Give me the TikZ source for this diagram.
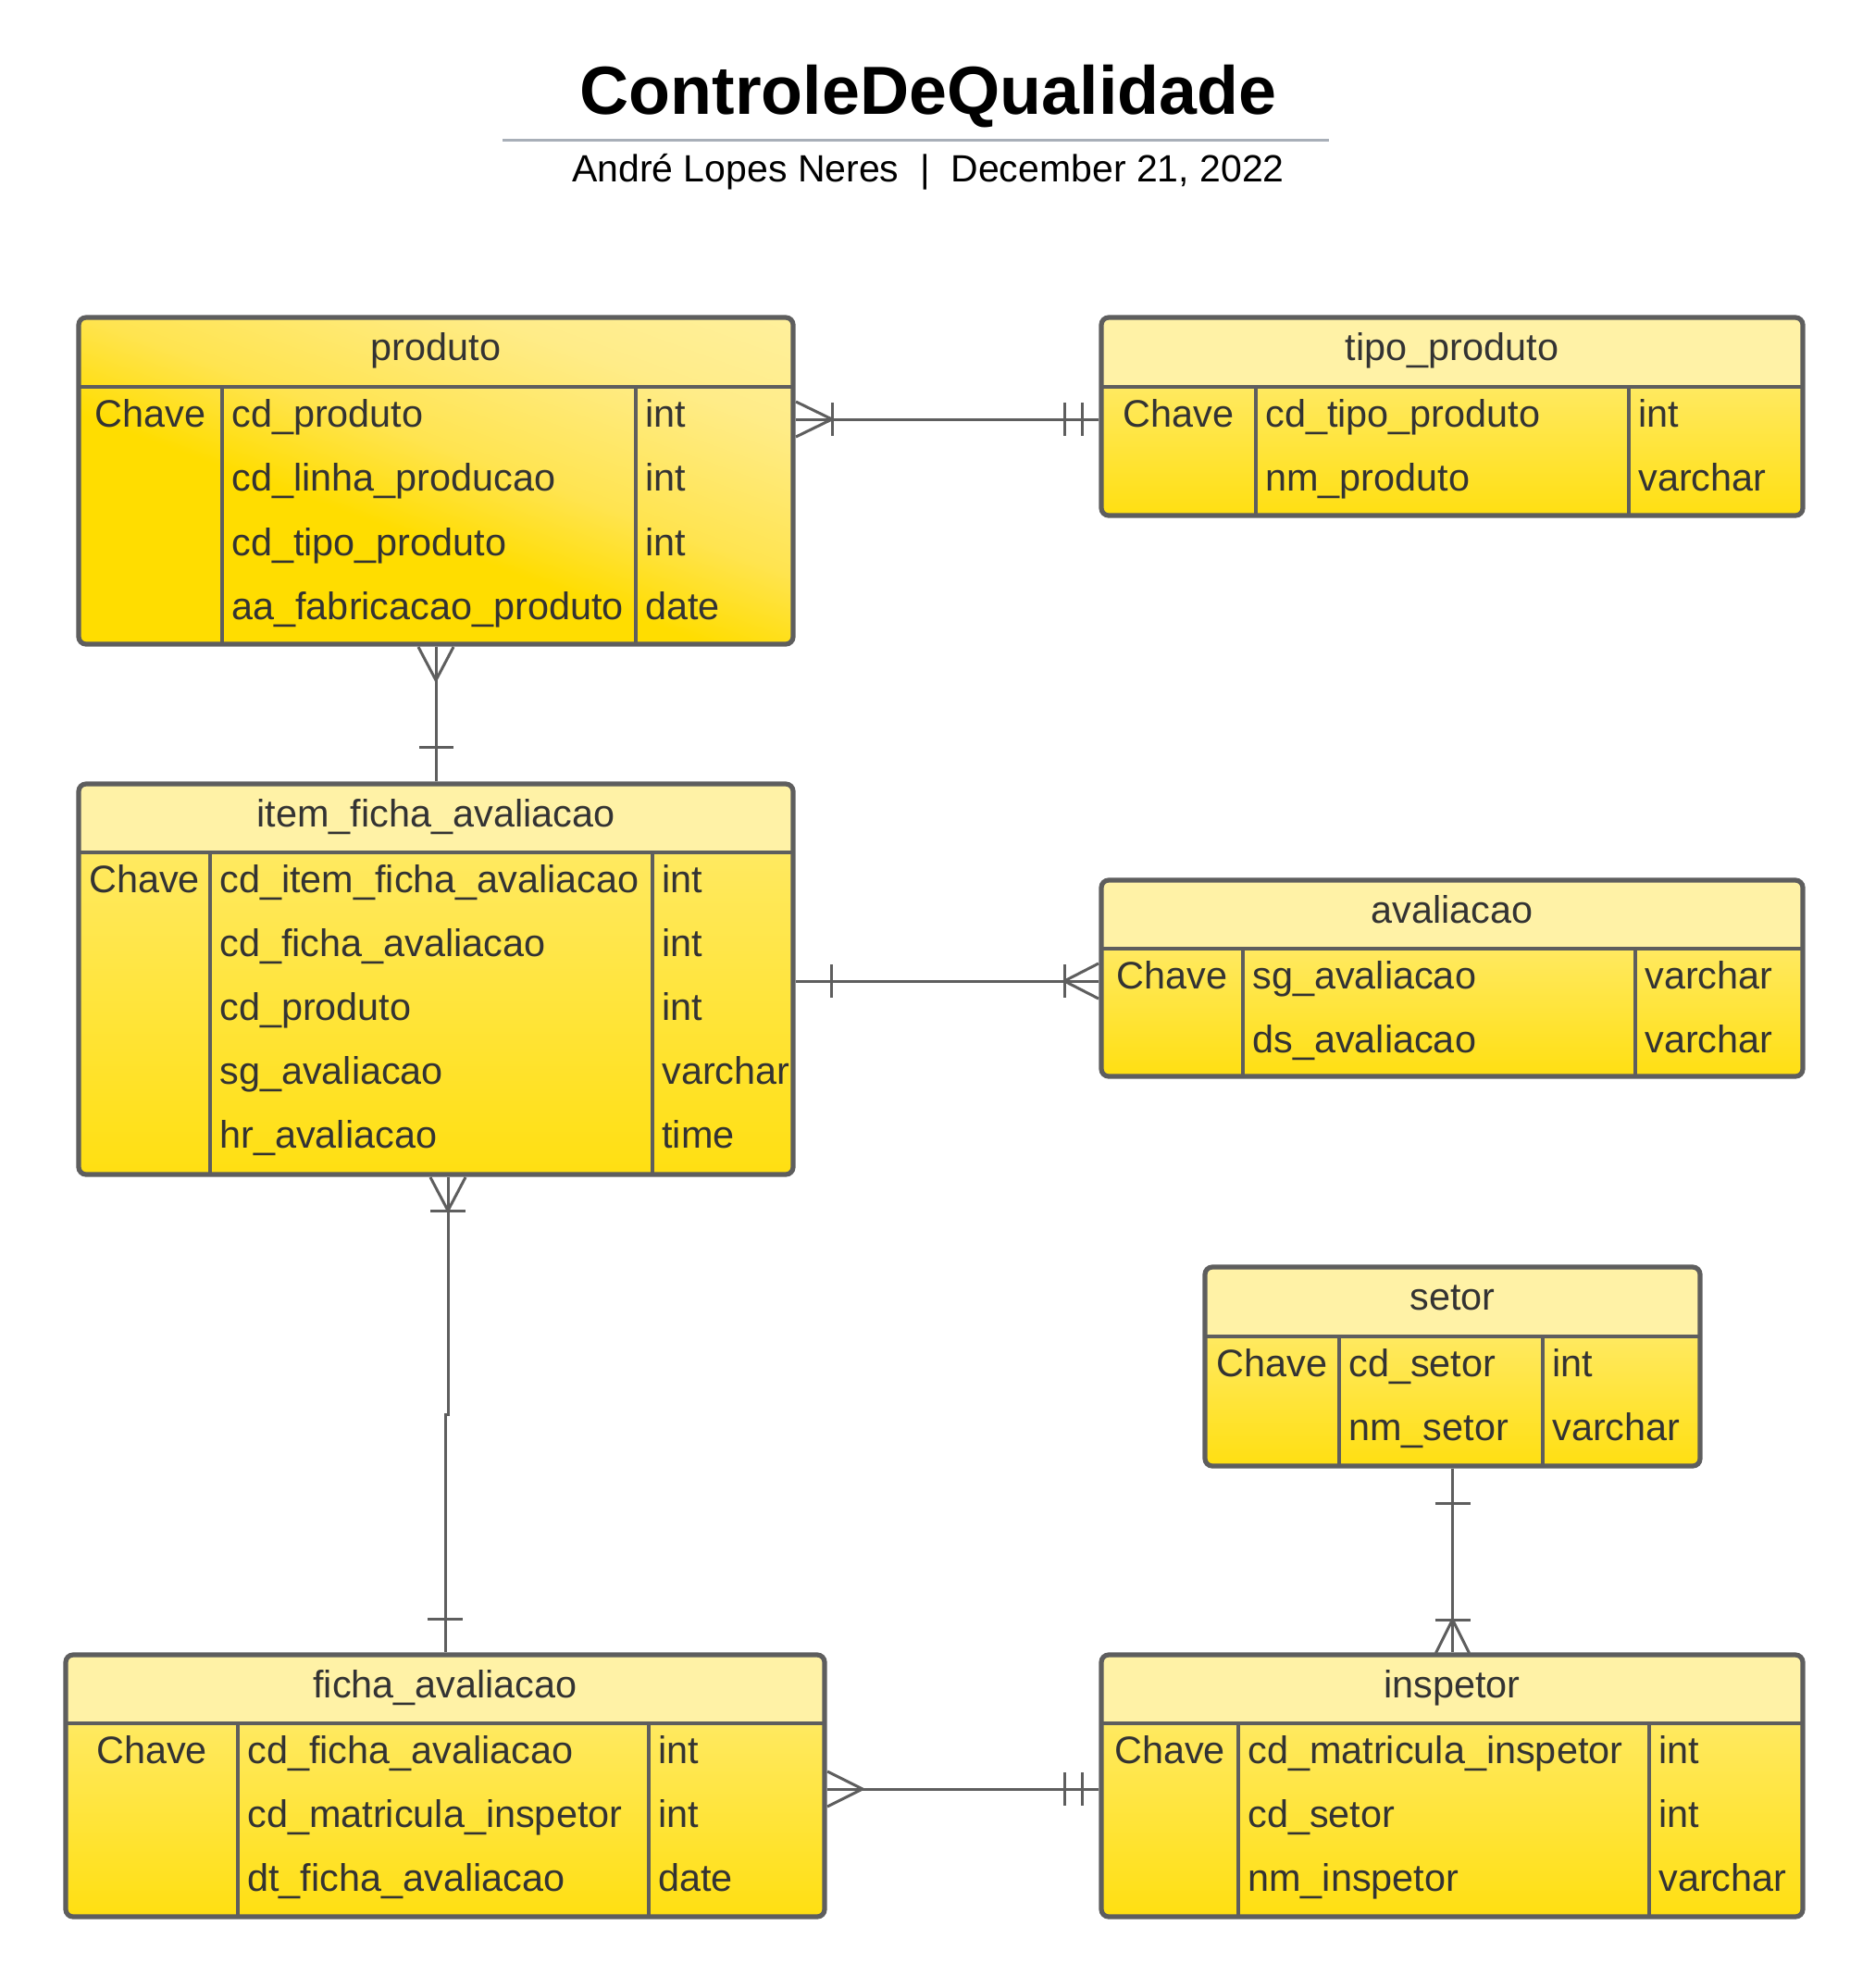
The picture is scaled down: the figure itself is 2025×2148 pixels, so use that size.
\documentclass[tikz,border=0pt]{standalone}
\usepackage{fontspec}
\setmainfont{Liberation Sans}
\usetikzlibrary{fit}
\definecolor{ergold}{HTML}{FFDD00}
\definecolor{erbodytop}{HTML}{FFEE88}
\definecolor{erhead}{HTML}{FFF2A6}
\definecolor{erlight}{HTML}{FFF3AA}
\definecolor{erdmid}{HTML}{FFE450}
\definecolor{erdsoft}{HTML}{FFEC88}
\definecolor{erline}{HTML}{5E5E5E}
\definecolor{ertext}{HTML}{333333}
\definecolor{titlerule}{HTML}{A8AFB8}
\pgfdeclareverticalshading{erbody}{100bp}{color(0bp)=(ergold); color(14bp)=(ergold); color(100bp)=(erbodytop)}
\pgfdeclareverticalshading{erdiag}{100bp}{color(0bp)=(ergold); color(43bp)=(ergold); color(54bp)=(erdmid); color(70bp)=(erdsoft); color(88bp)=(erhead); color(100bp)=(erlight)}
\newcommand{\erfont}{\fontsize{20.7}{24}\selectfont}
\tikzset{
  tablebox/.style={draw=erline, line width=2.6pt, rounded corners=4pt, inner sep=0pt},
  divider/.style={draw=erline, line width=2.2pt},
  conn/.style={draw=erline, line width=1.5pt},
  ftext/.style={anchor=base west, inner sep=0pt, font=\erfont, text=ertext},
  ktext/.style={anchor=base, inner sep=0pt, font=\erfont, text=ertext},
  htext/.style={anchor=base, inner sep=0pt, font=\erfont, text=ertext},
}
% plain vertical fill: #1 x1 #2 y1 #3 x2 #4 y2 #5 yh
\newcommand{\erfill}[5]{%
  \begin{scope}
    \clip[rounded corners=4pt] (#1,#2) rectangle (#3,#4);
    \shade[shading=erbody] (#1,#5) rectangle (#3,#4);
    \fill[erhead] (#1,#2) rectangle (#3,#5);
  \end{scope}}
\newcommand{\erdiagfill}[5]{%
  \begin{scope}
    \clip[rounded corners=4pt] (#1,#2) rectangle (#3,#4);
    \shade[shading=erdiag, shading angle=-20] (#1,#2) rectangle (#3,#4);
  \end{scope}}
% table frame: #1 name #2 x1 #3 y1 #4 x2 #5 y2 #6 yh #7 c1 #8 c2 #9 title
\newcommand{\ertable}[9]{%
  \draw[divider] (#2,#6) -- (#4,#6);
  \draw[divider] (#7,#6) -- (#7,#5);
  \draw[divider] (#8,#6) -- (#8,#5);
  \coordinate (#1-nw) at (#2,#3);
  \coordinate (#1-se) at (#4,#5);
  \node[tablebox, fit=(#1-nw)(#1-se)] (#1) {};
  \node[htext] (#1-title) at ({(#2+#4)/2},{(#3+#6)/2+9}) {#9};
  \node[ktext] (#1-key) at ({(#2+#7)/2},{#6+43}) {Chave};}
% row: #1 prefix #2 c1 #3 c2 #4 y(mid) #5 field #6 type
\newcommand{\errow}[6]{%
  \node[ftext] (#1-f) at ({#2+10},{#4+12}) {#5};
  \node[ftext] (#1-t) at ({#3+10},{#4+12}) {#6};}

\begin{document}
\begin{tikzpicture}[x=0.5pt,y=-0.5pt]
\fill[white] (0,0) rectangle (2025,2148);
\useasboundingbox (0,0) rectangle (2025,2148);

% title
\node[anchor=base, inner sep=0pt, font=\bfseries\fontsize{36.8}{44}\selectfont] (title) at (1003,123) {ControleDeQualidade};
\draw[titlerule, line width=1.5pt] (543,151) -- (1436,151);
\node[anchor=base, inner sep=0pt, font=\fontsize{20.5}{24}\selectfont] (subtitle) at (1003,196.5) {André Lopes Neres\ \ |\ \ December 21, 2022};

% produto
\erdiagfill{85}{343}{857}{696}{418}
\ertable{produto}{85}{343}{857}{696}{418}{240}{687}{produto}
\errow{p1}{240}{687}{449}{cd\_produto}{int}
\errow{p2}{240}{687}{518}{cd\_linha\_producao}{int}
\errow{p3}{240}{687}{588}{cd\_tipo\_produto}{int}
\errow{p4}{240}{687}{657}{aa\_fabricacao\_produto}{date}

% tipo_produto
\erfill{1190}{343}{1948}{557}{418}
\ertable{tipo}{1190}{343}{1948}{557}{418}{1357}{1760}{tipo\_produto}
\errow{t1}{1357}{1760}{449}{cd\_tipo\_produto}{int}
\errow{t2}{1357}{1760}{518}{nm\_produto}{varchar}

% item_ficha_avaliacao
\erfill{85}{847}{857}{1269}{921}
\ertable{item}{85}{847}{857}{1269}{921}{227}{705}{item\_ficha\_avaliacao}
\errow{i1}{227}{705}{952}{cd\_item\_ficha\_avaliacao}{int}
\errow{i2}{227}{705}{1021}{cd\_ficha\_avaliacao}{int}
\errow{i3}{227}{705}{1090}{cd\_produto}{int}
\errow{i4}{227}{705}{1159}{sg\_avaliacao}{varchar}
\errow{i5}{227}{705}{1228}{hr\_avaliacao}{time}

% avaliacao
\erfill{1190}{951}{1948}{1163}{1025}
\ertable{aval}{1190}{951}{1948}{1163}{1025}{1343}{1767}{avaliacao}
\errow{a1}{1343}{1767}{1056}{sg\_avaliacao}{varchar}
\errow{a2}{1343}{1767}{1125}{ds\_avaliacao}{varchar}

% setor
\erfill{1302}{1369}{1837}{1584}{1444}
\ertable{setor}{1302}{1369}{1837}{1584}{1444}{1447}{1667}{setor}
\errow{s1}{1447}{1667}{1475}{cd\_setor}{int}
\errow{s2}{1447}{1667}{1544}{nm\_setor}{varchar}

% ficha_avaliacao
\erfill{71}{1788}{891}{2071}{1862}
\ertable{ficha}{71}{1788}{891}{2071}{1862}{257}{701}{ficha\_avaliacao}
\errow{f1}{257}{701}{1893}{cd\_ficha\_avaliacao}{int}
\errow{f2}{257}{701}{1962}{cd\_matricula\_inspetor}{int}
\errow{f3}{257}{701}{2031}{dt\_ficha\_avaliacao}{date}

% inspetor
\erfill{1190}{1788}{1948}{2071}{1862}
\ertable{insp}{1190}{1788}{1948}{2071}{1862}{1338}{1782}{inspetor}
\errow{n1}{1338}{1782}{1893}{cd\_matricula\_inspetor}{int}
\errow{n2}{1338}{1782}{1962}{cd\_setor}{int}
\errow{n3}{1338}{1782}{2031}{nm\_inspetor}{varchar}

% connector produto - tipo_produto
\coordinate (c1y) at (0,453);
\draw[conn] (produto.east |- c1y) -- (tipo.west |- c1y);
\draw[conn] (860,434) -- (899,453) -- (860,472);
\draw[conn] (899,435) -- (899,471);
\draw[conn] (1150,435) -- (1150,471);
\draw[conn] (1169,435) -- (1169,471);

% connector produto - item
\draw[conn] (produto.south) -- (item.north);
\draw[conn] (452,699) -- (471,735) -- (490,699);
\draw[conn] (453,807) -- (490,807);

% connector item - avaliacao
\coordinate (c3y) at (0,1060);
\draw[conn] (item.east |- c3y) -- (aval.west |- c3y);
\draw[conn] (898,1042) -- (898,1078);
\draw[conn] (1187,1041) -- (1150,1060) -- (1187,1079);
\draw[conn] (1150,1042) -- (1150,1078);

% connector item - ficha
\coordinate (c4j) at (0,1528);
\draw[conn] (item.south -| 484,0) -- (c4j -| 484,0) -- (c4j -| ficha.north) -- (ficha.north);
\draw[conn] (465,1272) -- (484,1308) -- (503,1272);
\draw[conn] (465,1308) -- (503,1308);
\draw[conn] (462,1749) -- (500,1749);

% connector setor - inspetor
\draw[conn] (setor.south) -- (setor.south |- insp.north);
\draw[conn] (1550.5,1624) -- (1588.5,1624);
\draw[conn] (1551.5,1786) -- (1569.5,1750) -- (1587.5,1786);
\draw[conn] (1550.5,1750) -- (1588.5,1750);

% connector ficha - inspetor
\coordinate (c6y) at (0,1933);
\draw[conn] (ficha.east |- c6y) -- (insp.west |- c6y);
\draw[conn] (894,1914) -- (932,1933) -- (894,1952);
\draw[conn] (1150,1915) -- (1150,1951);
\draw[conn] (1169,1915) -- (1169,1951);
\end{tikzpicture}
\end{document}
